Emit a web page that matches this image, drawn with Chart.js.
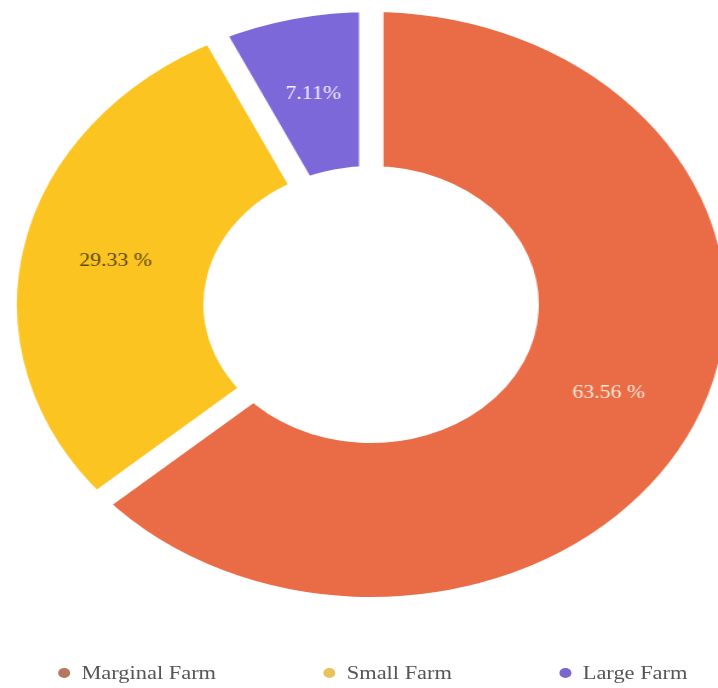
<!DOCTYPE html>
<html>
<head>
<meta charset="utf-8">
<title>Farm size share</title>
<script src="https://cdn.jsdelivr.net/npm/chart.js@4.4.1/dist/chart.umd.min.js"></script>
<style>
html, body { margin:0; padding:0; background:#fff; }
body { width:718px; height:688px; overflow:hidden; }
/* the reference is a round chart stretched sideways, so draw it narrow and stretch it */
#stage { position:relative; width:593px; height:688px; transform:scaleX(1.2108); transform-origin:0 0; }
#chart { position:absolute; left:0; top:0; }
#legend { position:absolute; left:23px; right:0; top:662px; display:flex; justify-content:center; gap:89px;
  font-family:"Liberation Serif", "Times New Roman", serif; font-size:18.5px; color:#555; line-height:22px; }
.item { display:flex; align-items:center; white-space:nowrap; }
.dot { width:10px; height:10px; border-radius:50%; margin-right:9px; }
</style>
</head>
<body>

<div id="stage">
<canvas id="chart" width="593" height="688"></canvas>
<div id="legend"></div>
</div>

<script>

// Data
const categories = ["Marginal Farm", "Small Farm", "Large Farm"]
const shares = [63.56, 29.33, 7.11]
const shareLabels = ["63.56 %", "29.33 %", "7.11%"]

// Colours
const sliceColors = ["#EA6C46", "#FCC420", "#7C68D8"]
const labelColors = ["#FBE6D6", "#5A4812", "#F4F0FF"]
const legendColors = ["#B7775E", "#E8C35C", "#7A66CC"]


// 🔹 Percent text in the middle of each ring piece
const sliceLabels = {

id: "sliceLabels",

afterDatasetsDraw(chart){

const ctx = chart.ctx
const arcs = chart.getDatasetMeta(0).data

ctx.save()
ctx.font = "18px 'Liberation Serif', 'Times New Roman', serif"
ctx.textAlign = "center"
ctx.textBaseline = "middle"

arcs.forEach((arc, i)=>{

const p = arc.getProps(["x", "y", "startAngle", "endAngle", "innerRadius", "outerRadius"], true)
const mid = (p.startAngle + p.endAngle) / 2
const r = (p.innerRadius + p.outerRadius) / 2

ctx.fillStyle = labelColors[i]
ctx.fillText(shareLabels[i], p.x + Math.cos(mid) * r, p.y + Math.sin(mid) * r)

})

ctx.restore()

}

}


// 🔹 Chart
new Chart(document.getElementById("chart"), {

type: "doughnut",

data: {
labels: categories,
datasets: [{
data: shares,
backgroundColor: sliceColors,
borderColor: "#fff",
borderWidth: 20,
hoverOffset: 0,
clip: false
}]
},

options: {
responsive: false,
animation: false,
radius: 302.5,
cutout: "42.48%",
layout: { padding: { left: 20, right: 0, top: 0, bottom: 79 } },
plugins: {
legend: { display: false },
tooltip: { enabled: false }
}
},

plugins: [sliceLabels]

})


// 🔹 Legend
const legend = document.getElementById("legend")

categories.forEach((name, i)=>{

const item = document.createElement("div")
item.className = "item"

const dot = document.createElement("span")
dot.className = "dot"
dot.style.background = legendColors[i]

const text = document.createElement("span")
text.innerText = name

item.appendChild(dot)
item.appendChild(text)
legend.appendChild(item)

})

</script>
</body>
</html>
